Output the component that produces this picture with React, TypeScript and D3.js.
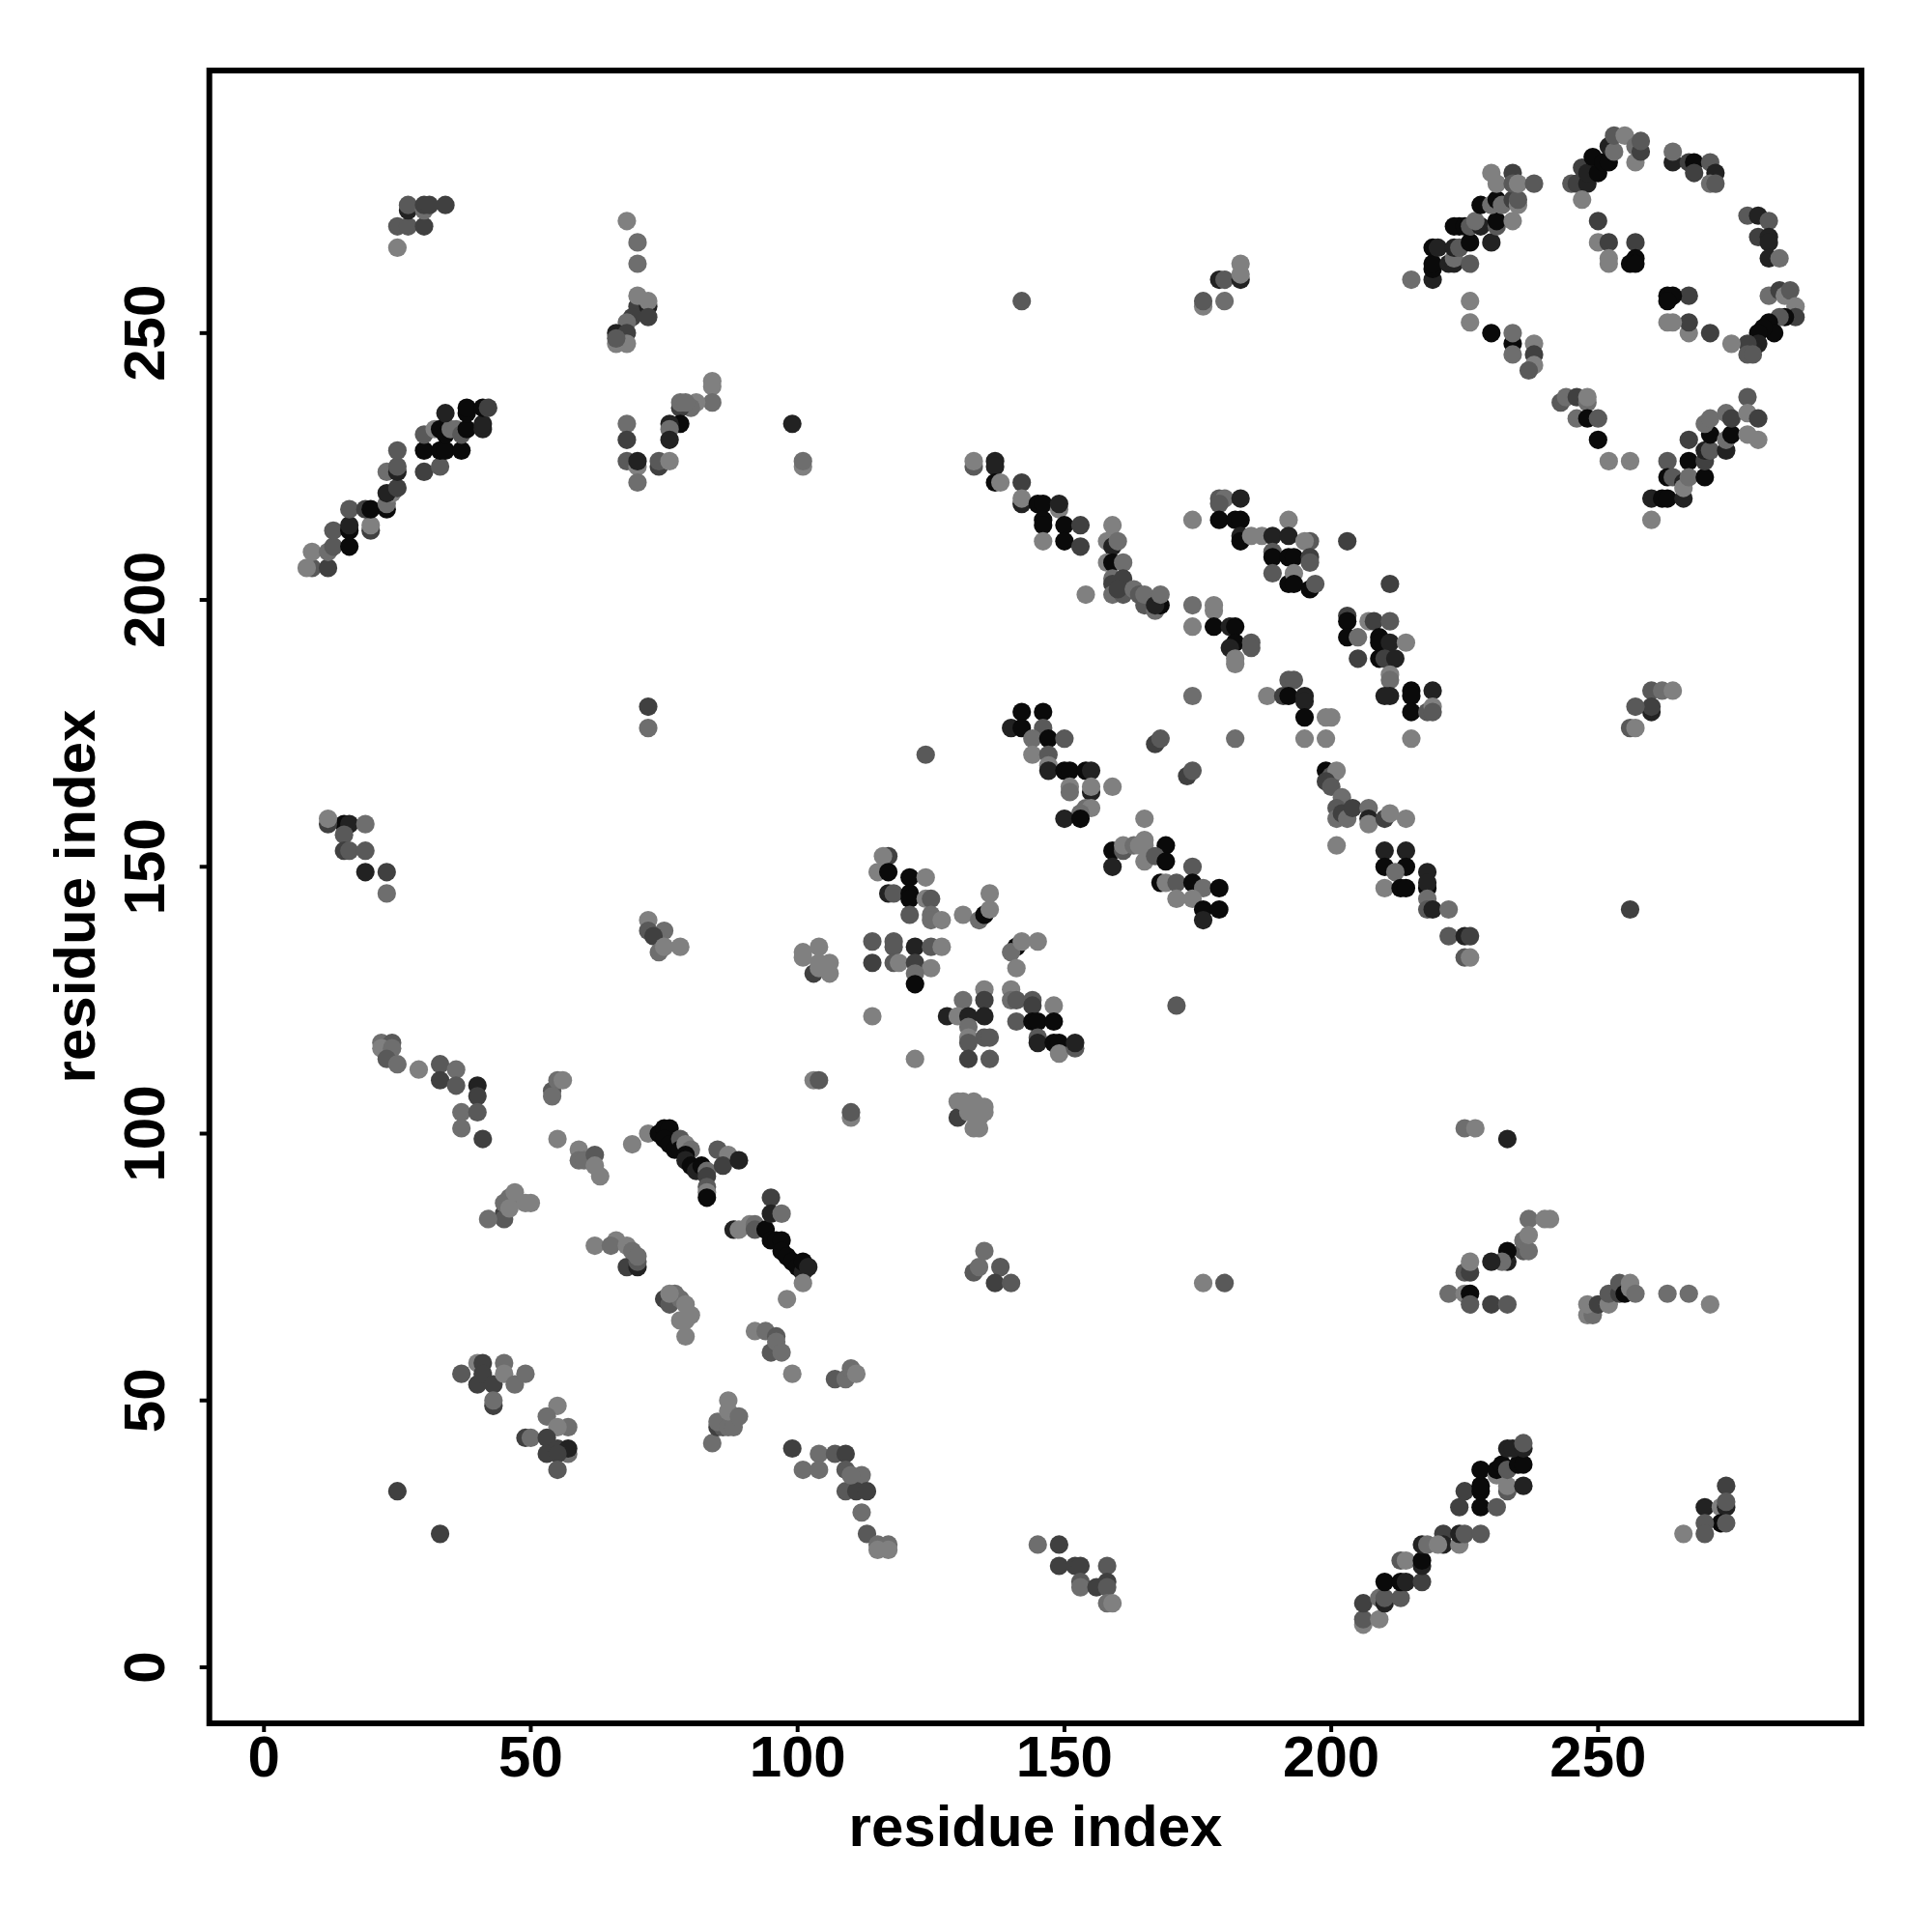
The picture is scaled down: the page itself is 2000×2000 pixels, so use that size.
import React from "react";
import * as d3 from "d3";

// each contact: [residue x, residue y, shade index]
const shades = ["#0a0a0a", "#222222", "#404040", "#595959", "#6e6e6e", "#808080"];
const xTicks = [0, 50, 100, 150, 200, 250];
const yTicks = [0, 50, 100, 150, 200, 250];
type C = [number, number, number];

const clusterLowLeft: C[] = [
[25,33,2],[33,25,2],[37,55,3],[40,57,5],[40,53,2],[41,57,2],[41,55,2],[43,53,2],[43,49,2],[43,50,4],[45,57,4],[45,55,5],[47,53,4],[49,55,4],
[55,49,5],[53,47,4],[57,45,4],[55,45,5],[49,43,2],[50,43,4],[53,43,2],[53,40,2],[55,41,2],[57,40,4],[57,41,1],[55,40,2],[55,37,3],
[84,42,4],[85,45,2],[86,45,3],[85,46,4],[87,45,4],[88,45,4],[87,50,5],[87,48,5],[89,47,4],
[99,41,2],[101,37,4],[104,40,4],[104,37,4],[107,40,3],[109,40,2],[109,37,3],[112,36,4],[109,33,3],[111,33,2],[113,33,2],[110,36,4],[112,29,4],[113,25,3],[115,23,4],[117,23,4],[115,22,5],[117,22,5],
[145,23,4],[149,23,2],[149,19,2],[152,19,2],[153,19,2],[153,16,3],[153,15,4],[156,15,2],[158,19,3],[158,16,2],[158,15,3],[158,12,4],[159,12,5],
[92,63,5],[94,63,4],[96,62,3],[95,59,3],[96,61,4],[97,59,4],[99,55,5],[107,54,3],[109,54,4],[110,56,4],[111,55,5]
];
const clusterMidLeft: C[] = [
[45,85,2],[45,84,3],[42,84,4],[45,87,4],[46,88,4],[47,89,5],[46,86,5],[49,87,5],[50,87,5],
[62,79,5],[68,75,2],[70,75,1],[66,80,5],[65,79,4],[68,79,5],[70,76,3],[69,78,4],[70,77,4],
[75,69,2],[76,68,3],[77,70,4],[78,69,4],[79,68,5],[78,65,5],[79,65,5],[80,66,5],[79,62,5],[76,70,5],
[22,117,4],[24,117,3],[22,116,5],[24,116,4],[23,114,3],[25,113,4],[29,112,5],[33,113,3],[33,110,2],[36,112,4],[36,109,3],[40,109,1],[40,107,2],[37,104,4],[40,104,3],[37,101,4],[41,99,2],
[54,108,3],[55,110,4],[56,110,5],[54,107,4],[55,99,5],[59,97,5],[59,95,4],[60,95,4],[62,96,3],[62,94,5],[63,92,5],
[72,100,5],[69,98,5],[74,100,0],[75,101,0],[76,101,0],[75,99,0],[76,98,0],[77,97,0],[78,99,3],[78,97,0],[79,98,5],[80,97,4],[79,96,0],[79,95,1],[80,94,0],[81,93,1],[82,94,0],[83,93,4],[83,92,2],[83,90,3],[83,89,5],[83,88,0],[85,97,3],[87,96,5],[86,94,2],[89,95,1],
[88,82,1],[89,82,5],[91,83,5],[92,83,4],[92,82,3],[94,82,0],[95,88,2],[95,85,1],[97,85,4],[95,80,0],[96,80,0],[97,80,0],[97,78,0],[98,77,0],[99,76,0],[100,75,0],[101,74,1],[101,76,0],[102,75,1],[101,72,5],[98,69,5],
[72,180,2],[72,176,4],[72,140,5],[72,138,3],[75,138,4],[73,137,2],[74,134,4],[75,135,5],[78,135,5],
[133,74,3],[134,75,4],[135,78,4],[138,75,3],[137,72,2],[140,72,3],
[176,72,5],[180,72,3],[225,101,4],[227,101,5],[233,99,1]
];
const clusterCentre: C[] = [
[117,152,2],[116,152,5],[115,149,5],[117,149,0],[121,148,0],[124,148,5],[117,145,1],[118,145,3],[121,145,0],[121,144,0],[124,144,5],[125,144,3],[121,141,3],[125,141,4],[125,140,4],[127,140,5],
[136,145,5],[131,141,5],[134,140,4],[135,141,0],[136,142,5],
[114,136,3],[118,136,3],[118,135,3],[122,135,1],[125,135,3],[127,135,5],[114,132,2],[118,132,3],[119,132,5],[122,132,2],[125,131,5],[122,130,4],[122,128,0],
[141,135,0],[140,134,4],[142,136,5],[145,136,5],[141,131,5],[101,134,5],[101,133,5],[103,130,2],[104,135,5],[104,132,5],[104,131,5],[106,132,5],[106,130,5],
[114,122,5],[122,114,5],
[135,127,5],[135,125,2],[131,125,4],[128,122,1],[130,122,5],[132,122,1],[135,122,1],[132,120,4],[132,118,5],[135,118,3],[136,118,3],[132,117,3],[132,114,2],[136,114,3],
[140,127,5],[140,125,4],[141,125,3],[144,125,3],[144,124,2],[148,124,5],[141,121,3],[144,121,0],[145,121,0],[148,121,0],[145,118,3],[145,117,1],[148,117,0],[149,117,0],[149,115,5],[152,116,3],[152,117,1],
[103,110,5],[104,110,3],[110,103,5],[110,104,3],[130,106,5],[130,103,2],[131,106,5],[133,106,5],[132,104,5],[134,103,5],[135,105,5],[135,104,5],[133,101,5],[134,101,5],
[124,171,3],[171,124,3]
];
const clusterDiagA: C[] = [
[140,176,1],[142,179,0],[146,179,0],[142,176,0],[146,176,3],[144,174,4],[147,174,0],[150,174,3],[144,171,5],[147,171,3],[147,169,5],[147,168,1],[150,168,0],[151,168,0],[154,168,0],[155,168,1],[151,165,5],[155,164,1],[155,165,5],[151,164,4],[159,165,5],[154,161,4],[155,161,5],[153,160,4],[150,159,1],[153,159,0],[165,159,5],
[167,173,2],[168,174,3],[173,167,2],[174,168,3],
[159,153,0],[159,150,1],[161,153,3],[161,154,5],[163,154,4],[164,154,5],[165,155,5],[165,154,5],[169,154,0],[165,151,5],[167,152,3],[169,151,0],[168,147,0],[169,147,5],[171,147,3],[174,150,3],[174,147,0],[176,146,4],[179,146,0],[171,144,5],[174,144,5],[176,142,0],[179,142,0],[176,140,1]
];
const clusterDiagB: C[] = [
[133,225,3],[133,226,5],[137,226,1],[137,225,1],[137,222,0],[138,222,5],[142,222,2],[142,218,1],[142,219,5],[145,218,0],[146,218,0],[149,217,5],[149,218,1],[146,215,0],[146,214,0],[150,214,0],[153,214,2],[146,211,5],[150,211,0],[153,210,2],[154,201,5],
[159,214,5],[158,211,5],[159,210,1],[160,211,4],[158,207,5],[159,207,0],[161,207,4],[159,204,4],[159,203,2],[159,201,4],[161,204,2],[161,201,3],[160,202,2],[163,202,4],[164,201,3],[165,199,3],[165,201,4],[167,198,4],[168,199,0],[167,199,1],[168,201,4],
[174,215,5],[179,219,3],[180,219,4],[179,218,3],[183,219,1],[179,215,0],[182,215,0],[183,215,0],[183,212,1],[183,211,0],[185,212,5],[187,212,5],[189,212,1],[192,215,5],[192,212,1],[189,209,3],[189,208,0],[192,208,0],[193,208,0],[196,211,3],[195,211,5],[196,208,2],[196,207,3],[189,205,3],[192,203,0],[193,205,5],[193,203,0],[196,202,0],[197,203,3],
[203,211,2],[211,203,2],
[203,197,2],[203,196,0],[207,196,5],[208,196,2],[211,196,3],[203,193,0],[205,193,4],[209,193,0],[209,192,0],[211,192,1],[214,192,5],[205,189,2],[209,189,0],[210,189,2],[212,189,1],[211,186,5],[211,185,4],[211,182,1],[210,182,1],[215,183,0],[215,182,0],[219,183,1],[215,179,0],[218,179,3],[219,180,5],[219,179,3],
[174,199,4],[178,199,5],[178,198,5],[174,195,5],[178,195,0],[181,195,1],[182,195,0],[182,192,0],[181,191,1],[185,192,3],[185,191,3],[182,189,5],[182,188,5],
[174,182,4],[192,185,3],[193,185,3],[188,182,5],[191,182,2],[192,182,0],[195,182,1],[195,181,1],[195,178,0],[199,178,5],[200,178,5],[195,174,5],[199,174,5],[182,174,4],[215,174,5],
[199,168,0],[200,167,3],[201,168,5],[199,166,2],[200,165,3],[202,163,4],[201,161,3],[201,159,4],[202,160,2],[203,159,4],[204,161,2],[207,161,4],[207,159,1],[207,158,5],[210,159,2],[211,160,5],[214,159,5],[201,154,5],
[210,153,1],[214,153,1],[210,150,0],[214,150,0],[212,149,4],[210,146,5],[213,146,0],[214,146,0],[218,149,1],[218,146,0],[218,147,1],[218,144,4],[218,142,3],[219,142,1],[222,142,4],[222,137,3],[225,137,1],[226,137,2],[225,133,3],[226,133,5]
];
const clusterUpperLeft: C[] = [
[25,266,5],[25,270,3],[27,270,3],[30,270,2],[27,273,1],[27,274,3],[30,273,4],[30,274,2],[31,274,2],[34,274,2],
[68,271,5],[70,267,4],[70,263,4],[70,255,2],[72,255,1],[70,257,5],[72,256,5],[72,253,2],[69,253,2],[68,252,4],[66,250,1],[68,250,2],[66,248,5],[68,248,5],[66,249,3],
[84,241,5],[84,240,5],[84,237,4],[81,237,5],[80,236,4],[78,236,2],[78,237,4],[79,237,4],[78,233,0],[76,233,1],[76,232,4],[76,230,1],[68,233,4],[68,230,2],[68,226,3],[70,225,5],[70,226,1],[70,222,4],[74,225,2],[74,226,3],[76,226,5],
[9,206,3],[8,206,5],[12,206,2],[9,209,5],[12,209,4],[13,210,3],[16,210,0],[13,213,3],[16,213,0],[16,214,1],[20,213,2],[20,214,5],[16,217,3],[19,217,2],[20,217,0],[23,217,0],[23,218,4],[24,220,5],[23,220,1],[25,221,2],[23,224,4],[25,224,1],[25,225,3],[25,228,3],
[30,224,2],[33,225,3],[30,228,0],[33,228,0],[34,228,0],[37,228,0],[30,231,3],[32,232,5],[33,232,0],[34,231,0],[35,232,4],[36,232,4],[37,231,3],[38,232,0],[41,232,1],[41,233,1],[34,235,1],[38,235,0],[38,236,0],[41,236,0],[42,236,2],
[15,158,0],[16,158,1],[12,158,2],[12,159,5],[15,156,3],[19,158,4],[15,153,2],[16,153,3],[19,153,3],[19,149,1],[23,149,2],[23,145,4],
[99,233,1],[101,225,5],[101,226,4],[142,256,3],
[176,255,5],[176,256,3],[180,256,4],[179,260,1],[180,260,3],[183,260,1],[183,261,5],[183,263,5],
[215,260,4]
];
const clusterUpperRight: C[] = [
[219,260,1],[219,262,0],[219,263,0],[219,266,0],[220,266,1],[222,263,1],[223,263,1],[223,264,4],[223,266,1],[224,266,3],[226,263,3],[226,267,0],[224,270,0],[223,270,0],[225,270,0],[226,270,3],[228,270,1],[227,271,4],[230,267,1],[231,270,3],[231,271,0],[234,271,5],[228,274,0],[230,274,4],[231,275,0],[232,274,4],[234,275,2],[235,274,5],[235,275,3],[231,278,5],[230,280,5],[234,280,2],[234,278,3],[235,278,5],[238,278,3],
[245,278,3],[246,278,2],[248,278,1],[247,281,2],[248,280,1],[249,283,0],[250,280,0],[251,282,0],[252,282,0],[247,275,5],[252,285,1],[253,284,4],[253,287,3],[255,287,5],[257,282,5],[257,285,4],[258,284,2],[258,286,3],
[264,282,1],[264,284,4],[267,282,2],[268,282,0],[268,280,2],[271,282,3],[272,280,1],[271,278,4],[272,278,3],[278,272,3],[280,272,1],[282,271,3],[280,268,2],[282,268,1],[282,267,1],[282,264,1],[284,264,4],
[282,257,4],[284,258,2],[285,257,5],[286,258,3],[287,255,5],[287,253,2],[285,253,0],[284,253,3],[282,252,0],[283,250,0],[281,251,0],[280,250,0],[280,248,1],[279,247,1],[278,248,2],[278,246,3],[279,246,3],[275,248,5],[271,250,2],[267,250,5],[267,252,2],[263,252,5],[264,252,5],[267,257,2],[263,257,0],[264,257,0],[263,256,0],
[250,271,2],[250,267,5],[252,267,2],[252,263,5],[252,264,5],[257,267,2],[257,264,0],[256,263,0],[257,263,0],
[226,256,5],[226,252,5],[230,250,0],[234,248,0],[234,250,4],[234,246,4],[238,248,5],[238,246,2],[238,244,5],[237,243,3],
[243,237,3],[244,238,4],[246,238,2],[248,237,4],[248,238,5],[246,234,4],[248,234,0],[250,234,3],[250,230,0],[252,226,5],[256,226,5],
[260,215,5],[260,219,1],[262,219,0],[263,219,0],[266,219,1],[263,226,3],[263,223,0],[264,223,3],[266,222,1],[266,221,5],[267,226,0],[267,223,4],[270,223,0],[270,226,2],[267,230,2],[270,228,1],[271,228,3],[271,231,0],[270,233,4],[271,234,4],[274,228,1],[274,230,4],[275,231,0],[274,235,4],[275,234,2],[278,238,3],[278,235,5],[280,234,2],[278,231,5],[280,230,5],
[260,183,3],[262,183,4],[264,183,5],[260,179,1],[260,180,2],[257,180,3],[256,176,3],[257,176,5],[256,142,2]
];
const clusterLowerRight: C[] = [
[237,84,4],[240,84,5],[241,84,5],[236,78,3],[236,80,4],[237,78,4],[237,81,5],[233,76,1],[233,78,0],[232,76,4],[230,76,1],[225,74,3],[226,74,2],[226,76,5],[222,70,4],[225,70,5],[226,70,0],[226,68,3],[230,68,2],[233,68,3],
[248,66,5],[249,66,4],[248,68,5],[250,68,2],[252,68,5],[252,70,3],[254,70,2],[254,72,3],[255,70,0],[256,72,5],[256,71,5],[257,70,4],[263,70,4],[267,70,4],[271,68,5],
[206,8,5],[206,9,3],[209,9,5],[206,12,2],[209,13,4],[210,12,1],[210,13,3],[213,13,3],[210,16,0],[213,16,0],[214,16,1],[217,16,2],[213,20,3],[214,20,5],[217,19,1],[217,20,0],[217,23,1],[218,23,4],[221,25,2],[221,23,1],[220,23,5],[224,23,5],[224,25,1],[225,25,3],[228,25,3],
[224,30,2],[225,33,2],[228,30,0],[231,30,3],[228,33,0],[228,34,0],[233,33,3],[233,34,5],[236,34,1],[228,37,0],[231,36,5],[231,37,0],[232,38,0],[233,37,3],[235,38,0],[236,38,0],[233,41,1],[234,41,1],[236,41,1],[236,42,3],
[274,34,2],[270,30,1],[273,30,5],[274,30,1],[274,31,3],[273,27,0],[274,27,3],[270,27,3],[270,25,3],[266,25,5]
];

const clusters = [clusterLowLeft, clusterMidLeft, clusterCentre, clusterDiagA, clusterDiagB, clusterUpperLeft, clusterUpperRight, clusterLowerRight];

const left = 216.7, right = 1927, top = 73, bottom = 1784;
const font = "'Liberation Sans', Arial, sans-serif";

export default function App() {
  const x = d3.scaleLinear().domain([-10.24, 299.36]).range([left, right]);
  const y = d3.scaleLinear().domain([-10.5, 299.2]).range([bottom, top]);
  const pts = clusters.flat();
  return (
    <svg width={2000} height={2000} style={{ position: "absolute", left: 0, top: 0, background: "#fff" }}>
      {pts.map((p, i) => (
        <circle key={i} cx={x(p[0])} cy={y(p[1])} r={9.6} fill={shades[p[2]]} />
      ))}
      <rect x={left} y={top} width={right - left} height={bottom - top} fill="none" stroke="#000" strokeWidth={6} />
      {xTicks.map((t) => (
        <g key={t}>
          <line x1={x(t)} x2={x(t)} y1={bottom} y2={bottom + 9} stroke="#000" strokeWidth={4} />
          <text x={x(t)} y={1839} textAnchor="middle" fontFamily={font} fontWeight="bold" fontSize={60}>{t}</text>
        </g>
      ))}
      {yTicks.map((t) => (
        <g key={t}>
          <line x1={left - 10} x2={left} y1={y(t)} y2={y(t)} stroke="#000" strokeWidth={4} />
          <text transform={`translate(170,${y(t)}) rotate(-90)`} textAnchor="middle" fontFamily={font} fontWeight="bold" fontSize={60}>{t}</text>
        </g>
      ))}
      <text x={1072} y={1911} textAnchor="middle" fontFamily={font} fontWeight="bold" fontSize={60}>residue index</text>
      <text transform={`translate(98,928) rotate(-90)`} textAnchor="middle" fontFamily={font} fontWeight="bold" fontSize={60}>residue index</text>
    </svg>
  );
}
